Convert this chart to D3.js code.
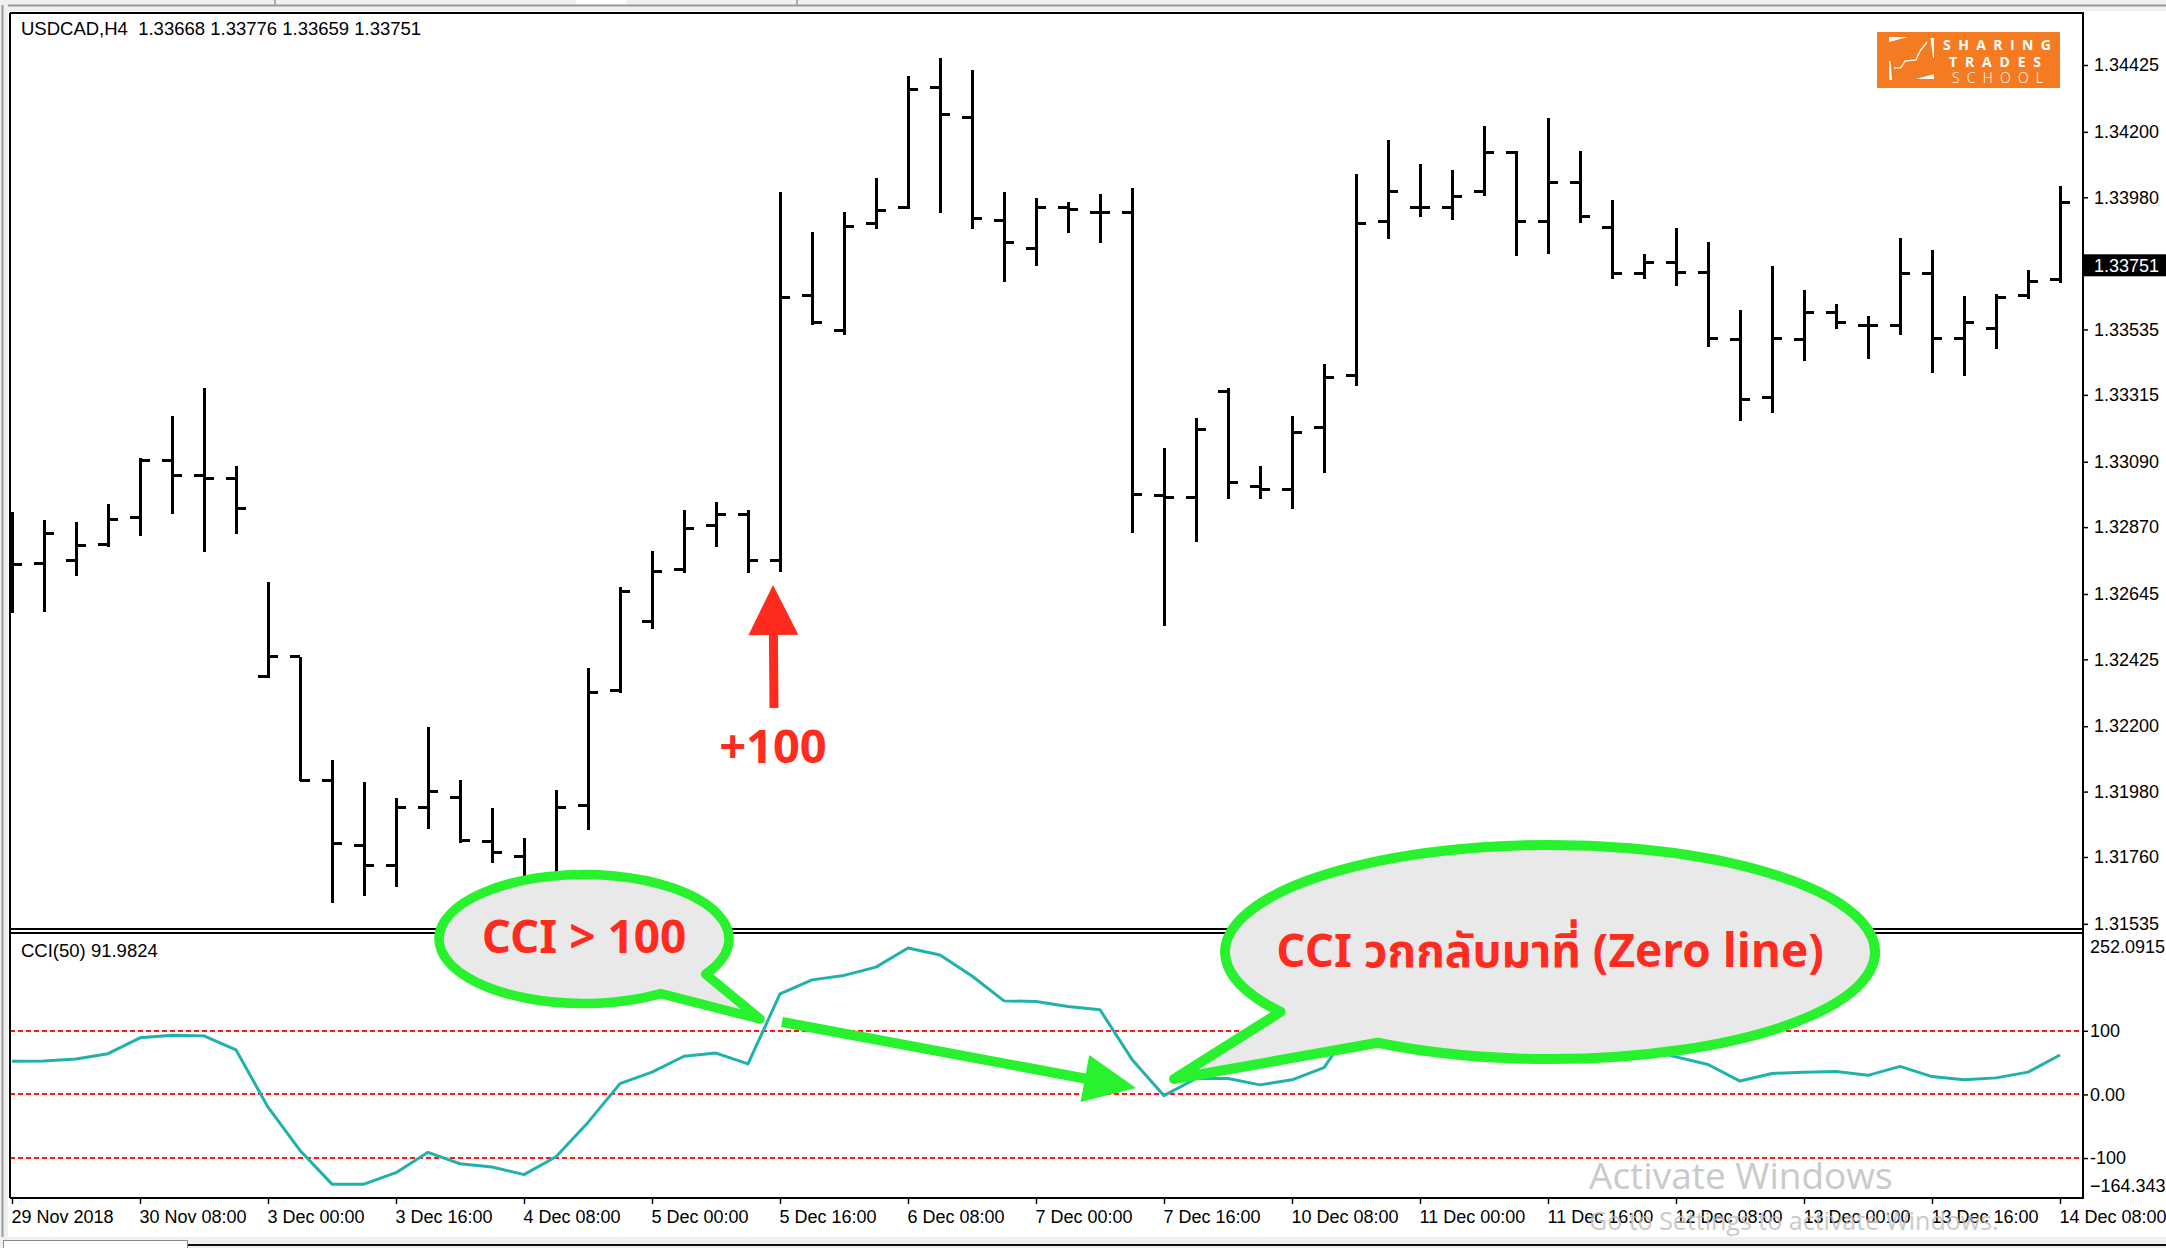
<!DOCTYPE html>
<html><head><meta charset="utf-8">
<script src="https://cdn.jsdelivr.net/npm/d3@7/dist/d3.min.js"></script>
<style>
html,body{margin:0;padding:0;background:#fff;overflow:hidden}
svg{display:block}
</style></head><body>
<svg id="c" width="2166" height="1248"></svg>
<script>
// ---------------- DATA ----------------
const opens = [1.32827,1.32749,1.32759,1.32813,1.32904,1.33093,1.33042,1.33035,1.32366,1.32433,1.32016,1.31797,1.31730,1.31928,1.31959,1.31811,1.31763,1.31683,1.31932,1.32321,1.32554,1.32726,1.32874,1.32914,1.32759,1.33648,1.33533,1.33890,1.33944,1.34348,1.34247,1.33903,1.33809,1.33947,1.33930,1.33927,1.32975,1.32971,1.33325,1.33008,1.32998,1.33204,1.33379,1.33900,1.33947,1.33947,1.34001,1.34129,1.33900,1.34031,1.33877,1.33725,1.33759,1.33728,1.33500,1.33305,1.33500,1.33591,1.33550,1.33550,1.33725,1.33506,1.33537,1.33651,1.33702];
const highs = [1.32921,1.32894,1.32887,1.32948,1.33103,1.33244,1.33338,1.33076,1.32685,1.32433,1.32086,1.32012,1.31959,1.32197,1.32019,1.31925,1.31824,1.31986,1.32396,1.32669,1.32790,1.32928,1.32955,1.32928,1.33998,1.33863,1.33930,1.34045,1.34388,1.34449,1.34408,1.33998,1.33977,1.33964,1.33991,1.34011,1.33136,1.33237,1.33338,1.33076,1.33244,1.33419,1.34058,1.34173,1.34092,1.34072,1.34220,1.34136,1.34247,1.34136,1.33971,1.33789,1.33877,1.33829,1.33601,1.33749,1.33668,1.33621,1.33580,1.33843,1.33803,1.33648,1.33654,1.33735,1.34018];
const lows = [1.32581,1.32584,1.32706,1.32803,1.32840,1.32914,1.32786,1.32847,1.32362,1.32016,1.31605,1.31629,1.31659,1.31854,1.31807,1.31740,1.31642,1.31632,1.31851,1.32311,1.32527,1.32716,1.32803,1.32716,1.32719,1.33550,1.33516,1.33873,1.33940,1.33927,1.33873,1.33695,1.33749,1.33860,1.33826,1.32850,1.32537,1.32820,1.32965,1.32965,1.32931,1.33052,1.33345,1.33840,1.33914,1.33903,1.33984,1.33782,1.33789,1.33893,1.33705,1.33705,1.33681,1.33476,1.33227,1.33254,1.33429,1.33537,1.33436,1.33516,1.33389,1.33379,1.33469,1.33638,1.33691];
const closes = [1.32743,1.32847,1.32807,1.32897,1.33093,1.33042,1.33035,1.32931,1.32433,1.32019,1.31804,1.31730,1.31928,1.31979,1.31817,1.31774,1.31683,1.31928,1.32315,1.32652,1.32719,1.32867,1.32914,1.32759,1.33641,1.33560,1.33883,1.33937,1.34341,1.34260,1.33910,1.33829,1.33944,1.33940,1.33930,1.32981,1.32971,1.33197,1.33019,1.32995,1.33190,1.33372,1.33893,1.33998,1.33947,1.33984,1.34132,1.33900,1.34031,1.33914,1.33725,1.33759,1.33728,1.33506,1.33301,1.33506,1.33591,1.33557,1.33550,1.33725,1.33506,1.33560,1.33644,1.33695,1.33961];
const cciValues = [52,52.6,55.7,64,89,93,92,70,-20,-88,-141,-141,-123,-91,-109,-114,-126,-98,-44,17,35,60,65,48,158,180,187,200,230,219,186,147,146,138,133,55,-2,25,25,15,23,42,115,150,140,140,165,125,130,115,85,72,59,47,21,33,35,36,30,44,28,23,26,35,62];
const priceTicks = [1.34425,1.34200,1.33980,1.33535,1.33315,1.33090,1.32870,1.32645,1.32425,1.32200,1.31980,1.31760,1.31535];
const cciLevels = [100, 0, -100];
const cciRange = [-164.3436, 252.0915];
const timeLabels = ["29 Nov 2018","30 Nov 08:00","3 Dec 00:00","3 Dec 16:00","4 Dec 08:00","5 Dec 00:00","5 Dec 16:00","6 Dec 08:00","7 Dec 00:00","7 Dec 16:00","10 Dec 08:00","11 Dec 00:00","11 Dec 16:00","12 Dec 08:00","13 Dec 00:00","13 Dec 16:00","14 Dec 08:00"];
const timeLabelBars = [0,4,8,12,16,20,24,28,32,36,40,44,48,52,56,60,64];
const lastPrice = 1.33751;
const headerText = "USDCAD,H4  1.33668 1.33776 1.33659 1.33751";
const cciHeader = "CCI(50) 91.9824";

// ---------------- LAYOUT ----------------
const W = 2166, H = 1248;
const L = {left:10, right:2083, mainTop:13, mainBottom:929, cciTop:933, cciBottom:1198};
const AX = '"Liberation Sans", Arial, sans-serif';
const x = d3.scaleLinear().domain([0, opens.length - 1]).range([12, 2060]);
const y = d3.scaleLinear().domain([1.31521, 1.34600]).range([928, 13]);
const yc = d3.scaleLinear().domain(cciRange).range([1199, 934]);

const svg = d3.select('#c');
const defs = svg.append('defs');
defs.append('clipPath').attr('id','mainClip').append('rect')
  .attr('x', L.left+1).attr('y', L.mainTop+1).attr('width', L.right-L.left-2).attr('height', L.mainBottom-L.mainTop-2);
defs.append('clipPath').attr('id','cciClip').append('rect')
  .attr('x', L.left+1).attr('y', L.cciTop+1).attr('width', L.right-L.left-2).attr('height', L.cciBottom-L.cciTop-2);

svg.append('rect').attr('width', W).attr('height', H).attr('fill', '#fff');

// window chrome
const chrome = svg.append('g');
chrome.append('rect').attr('x',0).attr('y',0).attr('width',W).attr('height',11).attr('fill','#f0f0f0');
chrome.append('line').attr('x1',0).attr('x2',W).attr('y1',5.5).attr('y2',5.5).attr('stroke','#9a9a9a').attr('stroke-width',2);
chrome.append('rect').attr('x',576).attr('y',0).attr('width',50).attr('height',4).attr('fill','#fff');
[275, 797].forEach(v => chrome.append('line').attr('x1',v).attr('x2',v).attr('y1',0).attr('y2',5).attr('stroke','#9a9a9a').attr('stroke-width',1.5));
chrome.append('rect').attr('x',0).attr('y',0).attr('width',8).attr('height',H).attr('fill','#f0f0f0');
chrome.append('line').attr('x1',2.5).attr('x2',2.5).attr('y1',5).attr('y2',1241).attr('stroke','#9a9a9a').attr('stroke-width',2);
chrome.append('rect').attr('x',0).attr('y',1237).attr('width',W).attr('height',11).attr('fill','#f0f0f0');
chrome.append('line').attr('x1',187).attr('x2',W).attr('y1',1245).attr('y2',1245).attr('stroke','#111').attr('stroke-width',2);
chrome.append('rect').attr('x',3.5).attr('y',1240.5).attr('width',184).attr('height',10).attr('fill','#fff').attr('stroke','#8a8a8a').attr('stroke-width',1);

// ---------------- BARS ----------------
const bars = opens.map((o,i) => ({i, o, h:highs[i], l:lows[i], c:closes[i]}));
const gBars = svg.append('g').attr('clip-path','url(#mainClip)')
  .attr('stroke','#000').attr('stroke-width',3).attr('shape-rendering','crispEdges');
gBars.selectAll('line.hl').data(bars).join('line').attr('class','hl')
  .attr('x1', d => x(d.i)).attr('x2', d => x(d.i))
  .attr('y1', d => y(d.h)).attr('y2', d => y(d.l));
gBars.selectAll('line.op').data(bars).join('line').attr('class','op')
  .attr('x1', d => x(d.i) - 10).attr('x2', d => x(d.i))
  .attr('y1', d => y(d.o)).attr('y2', d => y(d.o));
gBars.selectAll('line.cl').data(bars).join('line').attr('class','cl')
  .attr('x1', d => x(d.i)).attr('x2', d => x(d.i) + 10)
  .attr('y1', d => y(d.c)).attr('y2', d => y(d.c));

// ---------------- CCI ----------------
const gC = svg.append('g').attr('clip-path','url(#cciClip)');
gC.selectAll('line.lvl').data(cciLevels).join('line').attr('class','lvl')
  .attr('x1', L.left).attr('x2', L.right).attr('y1', d => yc(d)).attr('y2', d => yc(d))
  .attr('stroke','#ff1616').attr('stroke-width',2).attr('stroke-dasharray','5,3').attr('shape-rendering','crispEdges');
gC.append('path').datum(cciValues)
  .attr('d', d3.line().x((d,i) => x(i)).y(d => yc(d)))
  .attr('fill','none').attr('stroke','#20b2aa').attr('stroke-width',3).attr('stroke-linejoin','round');

// ---------------- FRAMES ----------------
const fr = svg.append('g').attr('stroke','#000').attr('stroke-width',2).attr('fill','none');
fr.append('line').attr('x1',L.left).attr('x2',L.right).attr('y1',L.mainTop).attr('y2',L.mainTop);
fr.append('line').attr('x1',L.left).attr('x2',L.right).attr('y1',L.mainBottom).attr('y2',L.mainBottom);
fr.append('line').attr('x1',L.left).attr('x2',L.right).attr('y1',L.cciTop).attr('y2',L.cciTop);
fr.append('line').attr('x1',L.left).attr('x2',L.right).attr('y1',L.cciBottom).attr('y2',L.cciBottom);
fr.append('line').attr('x1',L.left).attr('x2',L.left).attr('y1',L.mainTop).attr('y2',L.cciBottom);
fr.append('line').attr('x1',L.right).attr('x2',L.right).attr('y1',L.mainTop-1).attr('y2',L.cciBottom+1);

// ---------------- AXES ----------------
function styleAxis(g){
  g.select('.domain').remove();
  g.selectAll('.tick line').attr('stroke','#000').attr('stroke-width',1.5);
  g.selectAll('.tick text').attr('fill','#000').style('font-family',AX).style('font-size','18px');
}
svg.append('g').attr('transform',`translate(${L.right},0)`)
  .call(d3.axisRight(y).tickValues(priceTicks).tickFormat(d3.format('.5f')).tickSize(5).tickPadding(6))
  .call(styleAxis);
svg.append('g').attr('transform',`translate(${L.right},0)`)
  .call(d3.axisRight(yc).tickValues(cciLevels).tickFormat(d => d === 0 ? '0.00' : String(d)).tickSize(5).tickPadding(2))
  .call(styleAxis);
svg.append('g').attr('transform',`translate(0,${L.cciBottom})`)
  .call(d3.axisBottom(x).tickValues(timeLabelBars).tickFormat((d,i) => timeLabels[i]).tickSize(6).tickPadding(6))
  .call(styleAxis)
  .call(g => g.selectAll('.tick text').attr('text-anchor','start').attr('x',-1));

const axText = (t, xx, yy, fill) => svg.append('text').attr('x',xx).attr('y',yy).text(t)
  .style('font-family',AX).style('font-size','18px').attr('fill', fill || '#000').style('white-space','pre');
axText(d3.format('.4f')(cciRange[1]), 2090, yc(cciRange[1]) + 19);
axText(d3.format('.4f')(cciRange[0]), 2090, yc(cciRange[0]) - 7);
// current price box
svg.append('rect').attr('x', L.right+1).attr('y', y(lastPrice)-11).attr('width', W-L.right).attr('height', 22).attr('fill','#000');
axText(d3.format('.5f')(lastPrice), 2094, y(lastPrice)+6.5, '#fff');

// headers
axText(headerText, 21, 35).style('font-size','18.5px');
axText(cciHeader, 21, 957).style('font-size','18.5px');

// ---------------- LOGO ----------------
const logo = svg.append('g');
logo.append('rect').attr('x',1877).attr('y',32).attr('width',183).attr('height',56).attr('fill','#f57b22');
const LF = '"Open Sans", "Lato", sans-serif';
logo.append('text').attr('x',1943).attr('y',50).text('SHARING').attr('fill','#fff')
  .style('font-family',LF).style('font-size','14px').style('font-weight',700).attr('textLength',108).attr('lengthAdjust','spacing');
logo.append('text').attr('x',1949).attr('y',67).text('TRADES').attr('fill','#fff')
  .style('font-family',LF).style('font-size','14px').style('font-weight',700).attr('textLength',92).attr('lengthAdjust','spacing');
logo.append('text').attr('x',1952).attr('y',83).text('SCHOOL').attr('fill','#fff')
  .style('font-family',LF).style('font-size','14px').style('font-weight',300).attr('textLength',91).attr('lengthAdjust','spacing');
const ic = [
  [[1889,37],[1908,37],[1889,42]],
  [[1889,61],[1890.5,61],[1892,80],[1889,80]],
  [[1916,79],[1934,74],[1934,79]],
  [[1930.5,38],[1934,38],[1934,58],[1933,58]]
];
ic.forEach(p => logo.append('polygon').attr('points', p.map(q => q.join(',')).join(' ')).attr('fill','#fff'));
logo.append('polyline').attr('points','1894,68 1901,67.7 1905,61 1916,60 1920,51 1927,42')
  .attr('fill','none').attr('stroke','#fff').attr('stroke-width',1.3);

// ---------------- WATERMARK ----------------
svg.append('text').attr('x',1589).attr('y',1189).text('Activate Windows')
  .style('font-family','"Open Sans", sans-serif').style('font-size','37px').attr('fill','#bdbdbd').attr('opacity',0.8);
svg.append('text').attr('x',1589).attr('y',1230).text('Go to Settings to activate Windows.')
  .style('font-family','"Open Sans", sans-serif').style('font-size','25px').attr('fill','#bdbdbd').attr('opacity',0.8);

// ---------------- ANNOTATIONS ----------------
const GREEN = '#27f22d', RED = '#ff2b1e', BFILL = '#e9e9e9';
const AF = '"Noto Sans Thai","Noto Sans Thai UI","Noto Sans","Open Sans",sans-serif';
function bubble(cx, cy, rx, ry, tA, tB, tip, sweep){
  const r = Math.PI/180;
  const A = [cx + rx*Math.cos(tA*r), cy + ry*Math.sin(tA*r)];
  const B = [cx + rx*Math.cos(tB*r), cy + ry*Math.sin(tB*r)];
  return `M${A[0]},${A[1]} A${rx},${ry} 0 1 ${sweep} ${B[0]},${B[1]} L${tip[0]},${tip[1]} Z`;
}
function arrowPoly(s, t, shaftW, headL, headW){
  const dx = t[0]-s[0], dy = t[1]-s[1], len = Math.hypot(dx,dy), ux = dx/len, uy = dy/len, nx = -uy, ny = ux;
  const bx = t[0]-ux*headL, by = t[1]-uy*headL, hw = shaftW/2;
  return [[s[0]+nx*hw,s[1]+ny*hw],[bx+nx*hw,by+ny*hw],[bx+nx*headW,by+ny*headW],t,
          [bx-nx*headW,by-ny*headW],[bx-nx*hw,by-ny*hw],[s[0]-nx*hw,s[1]-ny*hw]];
}
const ann = svg.append('g');
// bubble 1
ann.append('path').attr('d', bubble(584, 939, 145, 64.5, 58, 33, [760,1019], 1))
  .attr('fill', BFILL).attr('stroke', GREEN).attr('stroke-width', 9.5).attr('stroke-linejoin','round');
ann.append('text').attr('x',584).attr('y',953).attr('text-anchor','middle').text('CCI > 100')
  .attr('fill',RED).style('font-family',AF).style('font-size','46px').style('font-weight',700);
// bubble 2
ann.append('path').attr('d', bubble(1550, 952, 325, 107, 122, 146, [1174,1079], 0))
  .attr('fill', BFILL).attr('stroke', GREEN).attr('stroke-width', 10).attr('stroke-linejoin','round');
ann.append('text').attr('x',1550).attr('y',967).attr('text-anchor','middle').text('CCI วกกลับมาที่ (Zero line)')
  .attr('fill',RED).style('font-family',AF).style('font-size','46px').style('font-weight',700);
// green arrow
ann.append('polygon').attr('points', arrowPoly([782,1022],[1136,1088],10,52,24).map(p => p.join(',')).join(' '))
  .attr('fill', GREEN);
// red arrow
ann.append('polygon').attr('points', arrowPoly([774,708],[773,585],9,50,25).map(p => p.join(',')).join(' '))
  .attr('fill', RED);
ann.append('text').attr('x',773).attr('y',763).attr('text-anchor','middle').text('+100')
  .attr('fill',RED).style('font-family',AF).style('font-size','47px').style('font-weight',700);
</script>
</body></html>
